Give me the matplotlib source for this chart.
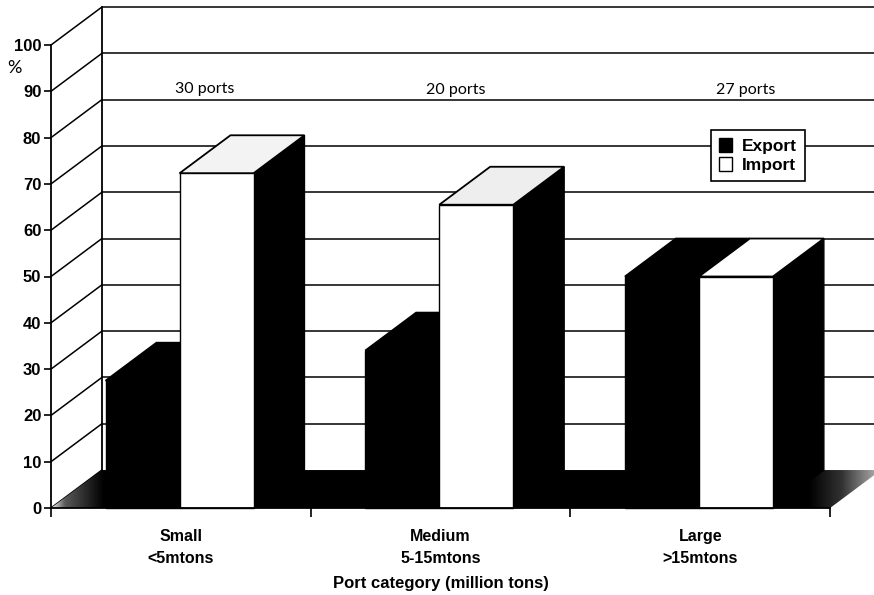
import numpy as np
import matplotlib
matplotlib.use('Agg')
import matplotlib.pyplot as plt
from matplotlib.patches import Polygon, Patch

# Values
categories = ['Small\n<5mtons', 'Medium\n5-15mtons', 'Large\n>15mtons']
ports = ['30 ports', '20 ports', '27 ports']
export_pct = [27.5, 34, 50]
import_pct = [72.3, 65.5, 50]
y_ticks = list(range(0, 101, 10))

# Pseudo-3D layout, in data units (category, percent)
DEPTH_X = 0.196
DEPTH_Y = 8.2
BAR_W = 0.285
BAR_PAD = 0.21
PX_X = 259.7
PX_Y = 4.63

plt.rcParams['font.family'] = ['Liberation Sans', 'DejaVu Sans']

fig = plt.figure(figsize=(8.74, 5.95), dpi=100)
ax = fig.add_axes([0, 0, 1, 1])
ax.set_xlim(-51 / PX_X, (874 - 51) / PX_X)
ax.set_ylim((508 - 595) / PX_Y, 508 / PX_Y)

xmax = 3 + DEPTH_X + 0.1

# Back and side walls
for v in y_ticks:
    ax.plot([0, DEPTH_X], [v, v + DEPTH_Y], color='k', lw=1.1, zorder=1)
    if v > 0:
        ax.plot([DEPTH_X, xmax], [v + DEPTH_Y, v + DEPTH_Y], color='k', lw=1.1, zorder=1)
ax.plot([DEPTH_X, DEPTH_X], [DEPTH_Y, 100 + DEPTH_Y], color='k', lw=1.3, zorder=1)

# Floor, black with lighter scanned corners
floor = Polygon([(0, 0), (3, 0), (3 + DEPTH_X, DEPTH_Y), (DEPTH_X, DEPTH_Y)],
                closed=True, facecolor='none', edgecolor='none')
ax.add_patch(floor)
xs = np.linspace(0, 3 + DEPTH_X, 400)
shade = np.interp(xs, [0, 0.05, 0.2, 2.92, 3.05, 3.19], [0.9, 0.35, 0.0, 0.0, 0.2, 0.7])
img = ax.imshow(shade[None, :], extent=(0, 3 + DEPTH_X, 0, DEPTH_Y), aspect='auto',
                cmap='gray', vmin=0, vmax=1, zorder=2)
img.set_clip_path(floor)
ax.set_xlim(-51 / PX_X, (874 - 51) / PX_X)
ax.set_ylim((508 - 595) / PX_Y, 508 / PX_Y)


def draw_bar(x0, h, front, top, zorder):
    x1 = x0 + BAR_W
    ax.add_patch(Polygon([(x1, 0), (x1 + DEPTH_X, DEPTH_Y), (x1 + DEPTH_X, h + DEPTH_Y), (x1, h)],
                         closed=True, facecolor='k', edgecolor='k', lw=1.0, zorder=zorder))
    ax.add_patch(Polygon([(x0, h), (x1, h), (x1 + DEPTH_X, h + DEPTH_Y), (x0 + DEPTH_X, h + DEPTH_Y)],
                         closed=True, facecolor=top, edgecolor='k', lw=1.3, zorder=zorder))
    ax.add_patch(Polygon([(x0, 0), (x1, 0), (x1, h), (x0, h)],
                         closed=True, facecolor=front, edgecolor='k', lw=1.0, zorder=zorder))


import_tops = ['#f3f3f3', '#eeeeee', 'white']
for i in range(len(categories)):
    draw_bar(i + BAR_PAD, export_pct[i], 'k', 'k', 3 + i)
    draw_bar(i + BAR_PAD + BAR_W, import_pct[i], 'white', import_tops[i], 3.5 + i)

# Port counts over each group
ports_x = [0.59, 1.56, 2.675]
ports_y = [90.6, 90.2, 90.2]
for px, py, label in zip(ports_x, ports_y, ports):
    ax.text(px, py, label, ha='center', va='center', fontsize=11.5,
            family=['Lato', 'DejaVu Sans'], zorder=6)
ax.text(-0.139, 95, '%', ha='center', va='center', fontsize=13,
        family=['Lato', 'DejaVu Sans'], zorder=6)

# Axes, ticks and labels
for side in ['top', 'right']:
    ax.spines[side].set_visible(False)
ax.spines['left'].set_position(('data', 0))
ax.spines['bottom'].set_position(('data', 0))
ax.spines['left'].set_bounds(0, 100)
ax.spines['bottom'].set_bounds(0, 3)
ax.spines['left'].set_linewidth(1.3)
ax.spines['bottom'].set_linewidth(1.3)
ax.spines['left'].set_zorder(7)
ax.spines['bottom'].set_zorder(7)
ax.set_yticks(y_ticks)
ax.set_yticklabels([str(v) for v in y_ticks], fontsize=12, fontweight='bold')
ax.tick_params(axis='y', length=5, width=1.2, pad=2)
ax.set_xticks([0, 1, 2, 3])
ax.set_xticklabels(['', '', '', ''])
ax.tick_params(axis='x', which='major', length=6.5, width=1.2)
ax.set_xticks([0.5, 1.5, 2.5], minor=True)
ax.set_xticklabels(categories, minor=True, fontsize=11.5, fontweight='bold', linespacing=1.6)
ax.tick_params(axis='x', which='minor', length=0, pad=15)
ax.text(1.5, -16.2, 'Port category (million tons)', ha='center', va='center',
        fontsize=12, fontweight='bold')

handles = [Patch(facecolor='k', edgecolor='k', label='Export'),
           Patch(facecolor='white', edgecolor='k', label='Import')]
leg = ax.legend(handles=handles, loc='upper left', bbox_to_anchor=(711 / 874, 1 - 130 / 595),
                borderaxespad=0, fancybox=False, framealpha=1, edgecolor='k',
                handlelength=0.75, handleheight=0.85, handletextpad=0.6,
                borderpad=0.45, labelspacing=0.2, prop={'size': 12.5, 'weight': 'bold'})
leg.set_zorder(8)
leg.get_frame().set_linewidth(1.2)

fig.savefig('out.png', dpi=100)
